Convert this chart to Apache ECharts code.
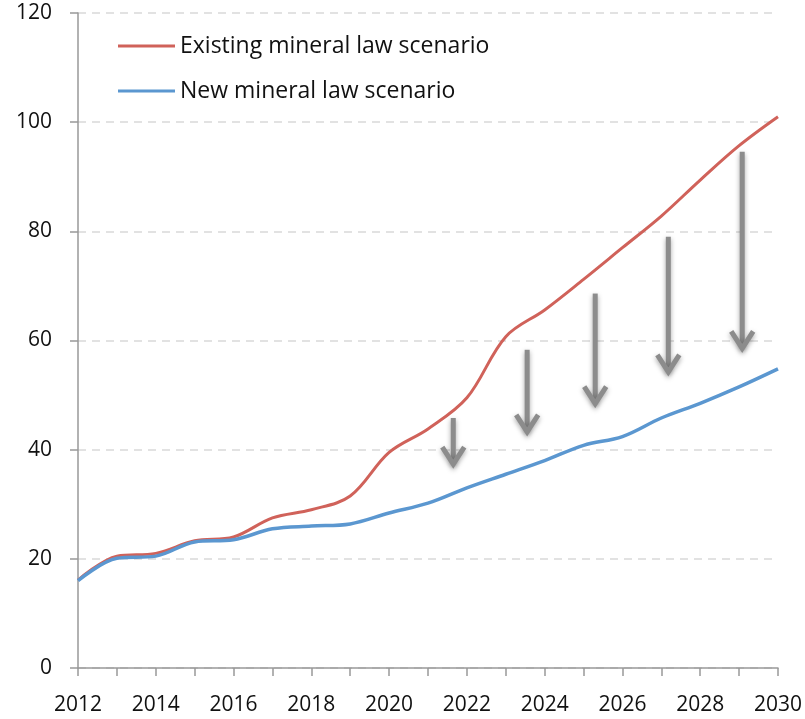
<!DOCTYPE html>
<html>
<head>
<meta charset="utf-8">
<script src="https://cdn.jsdelivr.net/npm/echarts@6/dist/echarts.min.js"></script>
<style>
    html, body { margin: 0; padding: 0; background: #fff; }
    #chart { width: 805px; height: 719px; }
</style>
</head>
<body>
<div id="chart"></div>
<script>
// years on the x axis
const years = [2012, 2013, 2014, 2015, 2016, 2017, 2018, 2019, 2020, 2021,
    2022, 2023, 2024, 2025, 2026, 2027, 2028, 2029, 2030];

const existingLaw = [16.1, 20.5, 21, 23.3, 24, 27.5, 29, 31.5, 39.5, 43.8,
    49.5, 60.7, 65.6, 71.2, 77, 82.8, 89.4, 95.7, 101];

const newLaw = [16, 20.1, 20.5, 23.1, 23.5, 25.5, 26, 26.4, 28.4, 30.2,
    33, 35.5, 38, 40.8, 42.4, 45.8, 48.5, 51.5, 54.8];

// grey arrows: [year, top value, tip value]
const arrows = [
    [2021.65, 45.8, 36.8],
    [2023.55, 58.3, 42.7],
    [2025.3, 68.6, 47.9],
    [2027.18, 79, 53.7],
    [2029.08, 94.6, 58]
];

const seriesNames = ['Existing mineral law scenario', 'New mineral law scenario'];

const chart = echarts.init(document.getElementById('chart'));

const pair = (vals) => years.map((y, i) => [y, vals[i]]);

const option = {
    animation: false,
    textStyle: { fontFamily: 'Open Sans' },
    grid: { left: 78, right: 25, top: 13, bottom: 51 },
    legend: {
        orient: 'vertical',
        left: 113,
        top: 27,
        itemWidth: 57,
        itemHeight: 3,
        itemGap: 17,
        icon: 'rect',
        data: seriesNames,
        textStyle: { fontSize: 23, lineHeight: 28, color: '#111', fontFamily: 'Open Sans' }
    },
    xAxis: {
        type: 'value',
        min: 2012,
        max: 2030,
        interval: 1,
        axisLine: { lineStyle: { color: '#999', width: 1.5 } },
        axisTick: { length: 8, lineStyle: { color: '#999', width: 1.5 } },
        axisLabel: {
            margin: 27,
            fontSize: 21,
            color: '#111',
            formatter: (v) => (v % 2 === 0 ? String(v) : '')
        },
        splitLine: { show: false }
    },
    yAxis: {
        type: 'value',
        min: 0,
        max: 120,
        interval: 20,
        axisLine: { show: true, lineStyle: { color: '#999', width: 1.5 } },
        axisTick: { show: true, length: 8, lineStyle: { color: '#999', width: 1.5 } },
        axisLabel: { margin: 26, fontSize: 21, color: '#111' },
        splitLine: { lineStyle: { color: '#d9d9d9', type: [8, 6], width: 1.5 } }
    },
    series: [
        {
            name: seriesNames[0],
            type: 'line',
            smooth: 0.35,
            symbol: 'none',
            itemStyle: { color: '#d0625a' },
            lineStyle: { color: '#d0625a', width: 3 },
            data: pair(existingLaw),
            z: 3
        },
        {
            name: seriesNames[1],
            type: 'line',
            smooth: 0.35,
            symbol: 'none',
            itemStyle: { color: '#5b97d0' },
            lineStyle: { color: '#5b97d0', width: 3.5 },
            data: pair(newLaw),
            z: 3
        },
        {
            type: 'custom',
            z: 4,
            data: arrows,
            renderItem: (params, api) => {
                const top = api.coord([api.value(0), api.value(1)]);
                const tip = api.coord([api.value(0), api.value(2)]);
                const style = {
                    stroke: '#8c8c8c',
                    lineWidth: 5,
                    fill: null,
                    lineCap: 'butt',
                    lineJoin: 'miter',
                    shadowBlur: 5,
                    shadowColor: 'rgba(0,0,0,0.35)',
                    shadowOffsetY: 2
                };
                return {
                    type: 'group',
                    children: [
                        {
                            type: 'line',
                            shape: { x1: top[0], y1: top[1], x2: tip[0], y2: tip[1] - 4 },
                            style: style
                        },
                        {
                            type: 'polyline',
                            shape: { points: [[tip[0] - 11, tip[1] - 20], [tip[0], tip[1] - 3], [tip[0] + 11, tip[1] - 20]] },
                            style: style
                        }
                    ]
                };
            }
        }
    ]
};

chart.setOption(option);
</script>
</body>
</html>
